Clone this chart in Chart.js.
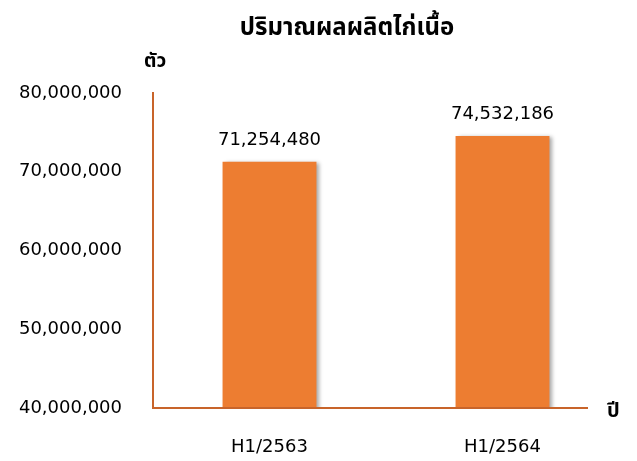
<!DOCTYPE html>
<html>
<head>
<meta charset="utf-8">
<script src="https://cdn.jsdelivr.net/npm/chart.js@4"></script>
<style>
html,body{margin:0;padding:0;background:#fff;}
#wrap{width:637px;height:461px;}
</style>
</head>
<body>
<div id="wrap"><canvas id="c" width="637" height="461"></canvas></div>
<script>
const categories = ["H1/2563", "H1/2564"];
const values = [71254480, 74532186];
const titleText = "ปริมาณผลผลิตไก่เนื้อ";
const yAxisTitle = "ตัว";
const xAxisTitle = "ปี";
const yMin = 40000000, yMax = 80000000, yStep = 10000000;

const numFont = "'DejaVu Sans', Verdana, sans-serif";
const thaiFont = "'Noto Sans Thai', 'Noto Sans', 'DejaVu Sans', sans-serif";
const fmt = v => v.toLocaleString('en-US');

const shadowPlugin = {
  id: 'shadow',
  beforeDatasetsDraw(chart) {
    const ctx = chart.ctx;
    ctx.save();
    ctx.shadowColor = 'rgba(0,0,0,0.35)';
    ctx.shadowBlur = 4;
    ctx.shadowOffsetX = 3;
    ctx.shadowOffsetY = 1;
  },
  afterDatasetsDraw(chart) {
    chart.ctx.restore();
  }
};

const decorPlugin = {
  id: 'decor',
  afterDraw(chart) {
    const ctx = chart.ctx;
    const a = chart.chartArea;
    ctx.save();
    ctx.strokeStyle = '#C8642A';
    ctx.lineWidth = 2;
    ctx.beginPath();
    ctx.moveTo(a.left - 1, a.bottom);
    ctx.lineTo(a.right - 31, a.bottom);
    ctx.stroke();
    ctx.fillStyle = '#000';
    ctx.font = "18px " + numFont;
    ctx.textAlign = 'center';
    ctx.textBaseline = 'bottom';
    const meta = chart.getDatasetMeta(0);
    meta.data.forEach((bar, i) => {
      ctx.fillText(fmt(values[i]), bar.x, bar.y - 13);
    });
    ctx.font = "bold 24px " + thaiFont;
    ctx.textBaseline = 'alphabetic';
    ctx.fillText(titleText, 347, 35);
    ctx.font = "bold 19px " + thaiFont;
    ctx.textAlign = 'left';
    ctx.fillText(yAxisTitle, 144, 67);
    ctx.font = "bold 20px " + thaiFont;
    ctx.fillText(xAxisTitle, 607, 417);
    ctx.restore();
  }
};

new Chart(document.getElementById('c'), {
  type: 'bar',
  data: {
    labels: categories,
    datasets: [{
      data: values,
      backgroundColor: '#ED7D31',
      borderWidth: 0,
      barPercentage: 0.403,
      categoryPercentage: 1.0
    }]
  },
  options: {
    responsive: false,
    animation: false,
    devicePixelRatio: 1,
    layout: { padding: { top: 93, right: 18, bottom: 0, left: 0 } },
    plugins: {
      legend: { display: false },
      tooltip: { enabled: false },
      title: { display: false }
    },
    scales: {
      x: {
        grid: { display: false, drawTicks: false },
        border: { display: false },
        ticks: { color: '#000', font: { family: numFont, size: 18 }, padding: 29 },
        afterFit(s) { s.height = 53; }
      },
      y: {
        min: yMin, max: yMax,
        grid: { display: false, drawTicks: false },
        border: { display: true, color: '#C8642A', width: 2 },
        ticks: {
          stepSize: yStep,
          color: '#000',
          font: { family: numFont, size: 18 },
          padding: 31,
          callback: v => fmt(v)
        },
        afterFit(s) { s.width = 153; }
      }
    }
  },
  plugins: [shadowPlugin, decorPlugin]
});
</script>
</body>
</html>
